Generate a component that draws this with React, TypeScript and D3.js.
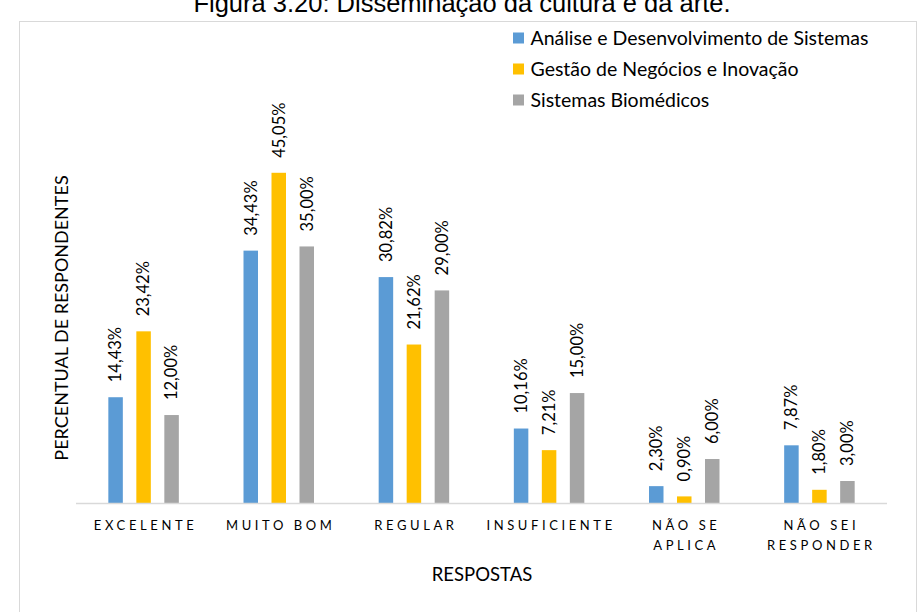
import React from "react";
import * as d3 from "d3";

const categories: string[][] = [
  ["EXCELENTE"],
  ["MUITO BOM"],
  ["REGULAR"],
  ["INSUFICIENTE"],
  ["NÃO SE", "APLICA"],
  ["NÃO SEI", "RESPONDER"],
];
const seriesNames = [
  "Análise e Desenvolvimento de Sistemas",
  "Gestão de Negócios e Inovação",
  "Sistemas Biomédicos",
];
const adsValues = [14.43, 34.43, 30.82, 10.16, 2.3, 7.87];
const gniValues = [23.42, 45.05, 21.62, 7.21, 0.9, 1.8];
const sbValues = [12.0, 35.0, 29.0, 15.0, 6.0, 3.0];
const colors = ["#5B9BD5", "#FFC000", "#A5A5A5"];

const W = 923;
const H = 612;
const FONT = "Lato, 'Open Sans', sans-serif";

export default function App() {
  const series = [adsValues, gniValues, sbValues];
  const x0 = d3
    .scaleBand<number>()
    .domain(d3.range(categories.length))
    .range([76, 887])
    .paddingInner(0)
    .paddingOuter(0);
  const y = d3.scaleLinear().domain([0, 50]).range([503, 136.5]);
  const step = 28;
  const barW = 14.5;
  const fmt = (v: number) => v.toFixed(2).replace(".", ",") + "%";

  return (
    <div style={{ position: "absolute", left: 0, top: 0 }}>
      <svg width={W} height={H} style={{ display: "block", background: "#fff" }}>
        <text
          x={462}
          y={12}
          textAnchor="middle"
          fontFamily="'Liberation Sans', Arial, sans-serif"
          fontSize={25.5}
          fill="#000"
        >
          Figura 3.20: Disseminação da cultura e da arte.
        </text>
        <rect x={19.5} y={21.5} width={897} height={620} fill="none" stroke="#D9D9D9" strokeWidth={1} />

        {/* legend */}
        {seriesNames.map((n, i) => (
          <g key={n} transform={`translate(513, ${38 + i * 31})`}>
            <rect x={0} y={-5.5} width={11} height={11} fill={colors[i]} />
            <text x={17.5} y={0} dy="0.35em" fontFamily={FONT} fontSize={19.5} fill="#000">
              {n}
            </text>
          </g>
        ))}

        {/* bars */}
        {categories.map((c, ci) => {
          const cx = (x0(ci) as number) + x0.bandwidth() / 2;
          return (
            <g key={ci}>
              {series.map((s, si) => {
                const bx = cx + (si - 1) * step;
                const top = y(s[ci]);
                return (
                  <g key={si}>
                    <rect x={bx - barW / 2} y={top} width={barW} height={y(0) - top} fill={colors[si]} />
                    <text
                      transform={`translate(${bx}, ${top - 15}) rotate(-90)`}
                      dy="0.35em"
                      textAnchor="start"
                      fontFamily={FONT}
                      fontSize={16.5}
                      fill="#000"
                    >
                      {fmt(s[ci])}
                    </text>
                  </g>
                );
              })}
              {c.map((line, li) => (
                <text
                  key={li}
                  x={cx + 2}
                  y={530 + li * 20}
                  textAnchor="middle"
                  fontFamily={FONT}
                  fontSize={13}
                  letterSpacing={3.6}
                  fill="#000"
                >
                  {line}
                </text>
              ))}
            </g>
          );
        })}

        <line x1={76} x2={887} y1={503.5} y2={503.5} stroke="#D9D9D9" strokeWidth={1.5} />

        <text x={482} y={581} textAnchor="middle" fontFamily={FONT} fontSize={18.5} fill="#000">
          RESPOSTAS
        </text>
        <text
          transform={`translate(62, 318) rotate(-90)`}
          dy="0.35em"
          textAnchor="middle"
          fontFamily={FONT}
          fontSize={18}
          fill="#000"
        >
          PERCENTUAL DE RESPONDENTES
        </text>
      </svg>
    </div>
  );
}
